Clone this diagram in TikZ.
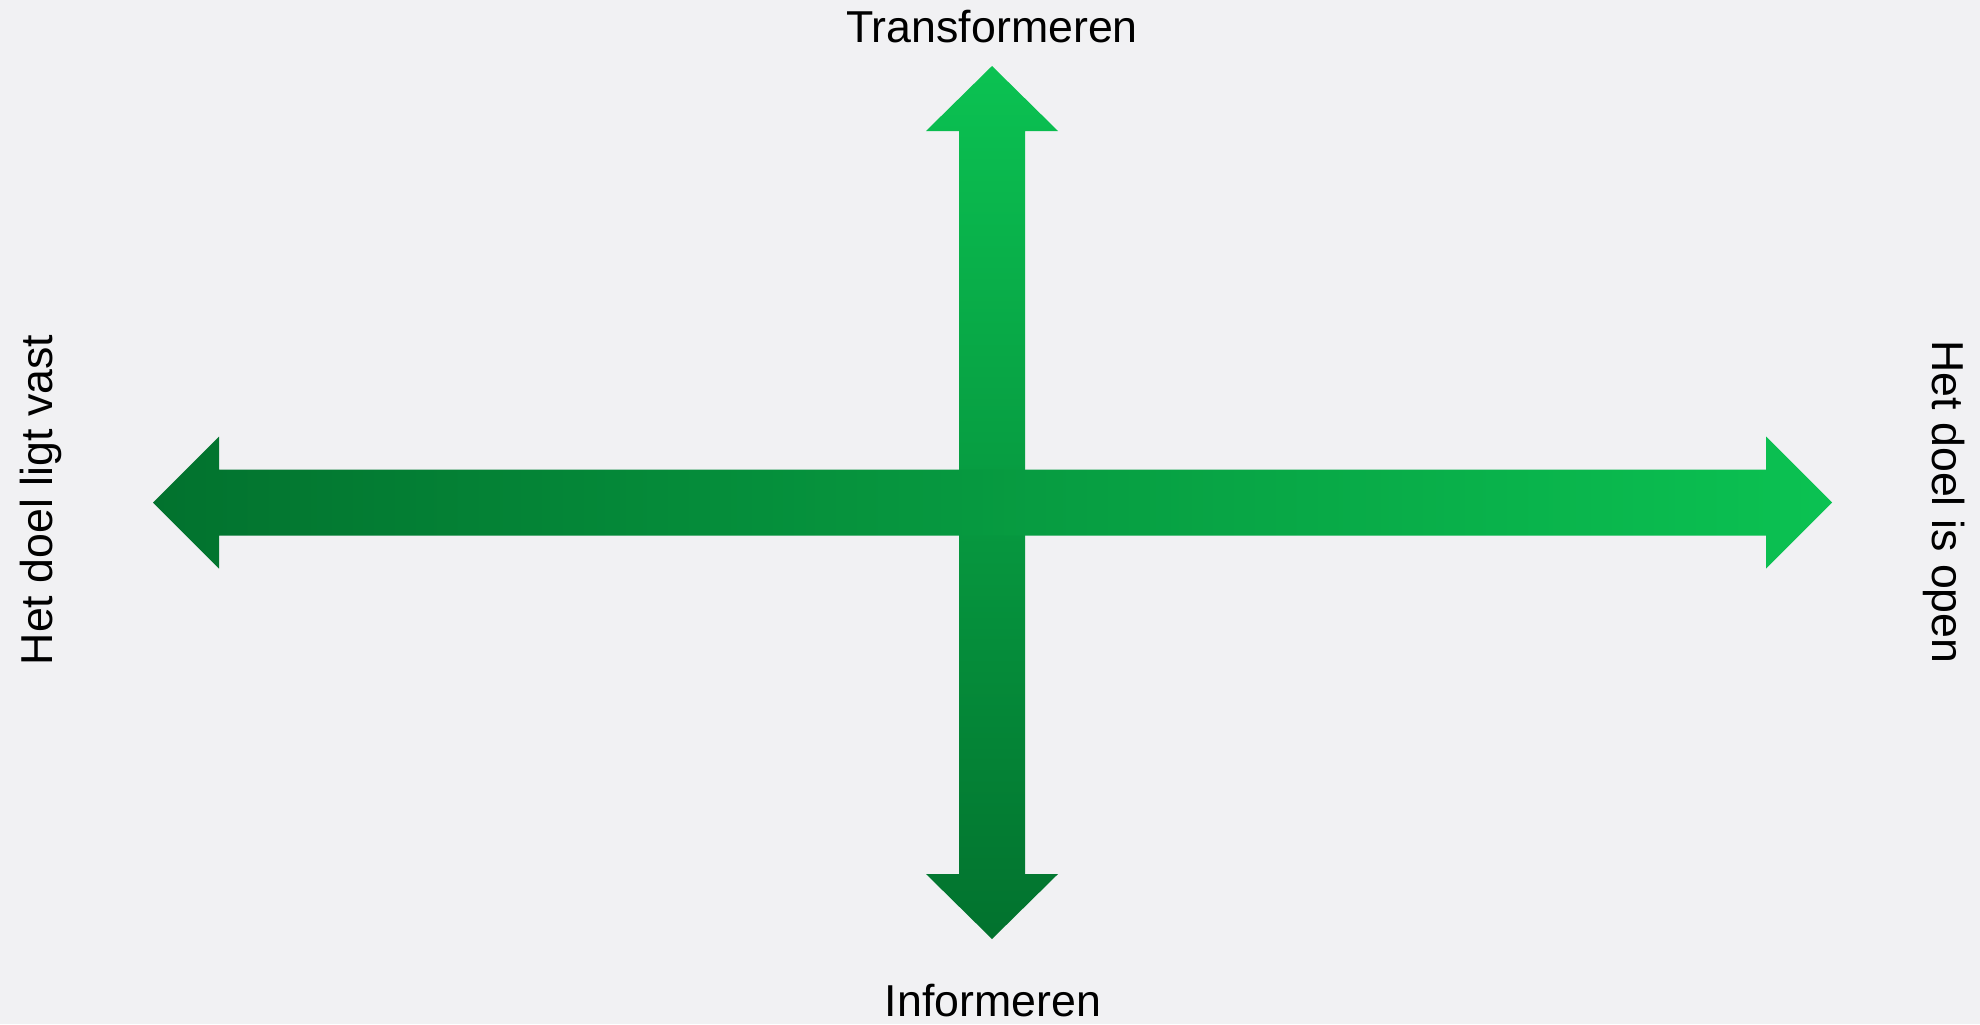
\documentclass[tikz,border=0pt]{standalone}
\usepackage{fontspec}
\setmainfont{Liberation Sans}
\definecolor{bgcol}{RGB}{241,241,243}
\definecolor{darkgreen}{RGB}{2,114,46}
\definecolor{lightgreen}{RGB}{11,194,82}
\begin{document}
\begin{tikzpicture}[x=0.5pt,y=-0.5pt,
		label/.style={font=\fontsize{22.35pt}{26pt}\selectfont,inner sep=0pt,anchor=base}]
		\fill [bgcol] (0,0) rectangle (1980,1024);
		\coordinate (O) at (992,502.5);
		\coordinate (N) at (992,66);
		\coordinate (S) at (992,939);
		\coordinate (W) at (153,502.5);
		\coordinate (E) at (1832,502.5);
		% vertical arrow
		\shade [top color=lightgreen,bottom color=darkgreen] (N) -- ++(66,65) -- ++(-33,0) -- ++(0,743) -- ++(33,0) -- (S) -- ++(-66,-65) -- ++(33,0) -- ++(0,-743) -- ++(-33,0) -- cycle;
		% horizontal arrow
		\shade [left color=darkgreen,right color=lightgreen] (W) -- ++(66,-66) -- ++(0,33) -- ++(1547,0) -- ++(0,-33) -- (E) -- ++(-66,66) -- ++(0,-33) -- ++(-1547,0) -- ++(0,33) -- cycle;
		\node[label] (top) at (992,42.3) {Transformeren};
		\node[label] (bottom) at (993,1016.7) {Informeren};
		\node[label,rotate=90] (left) at (52.3,500) {Het doel ligt vast};
		\node[label,rotate=-90] (right) at (1932,502) {Het doel is open};
	\end{tikzpicture}
\end{document}
